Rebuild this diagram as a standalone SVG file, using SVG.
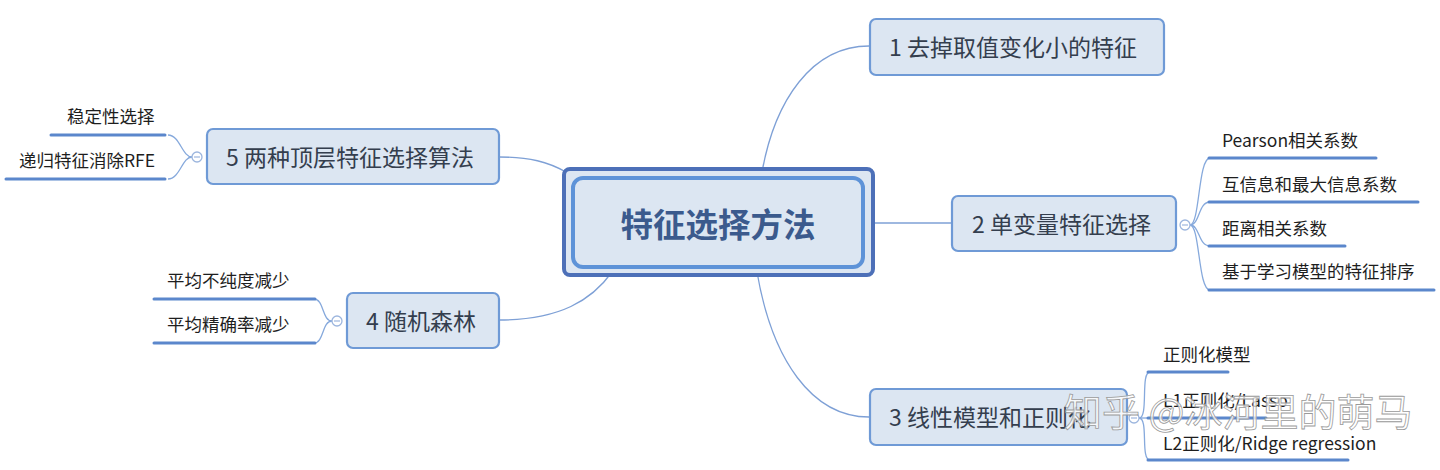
<svg xmlns="http://www.w3.org/2000/svg" width="1440" height="470" viewBox="0 0 1440 470">
<defs>
<style>
.node{fill:#dce6f2;stroke:#6f9ad6;stroke-width:2.2}
.nt{font-family:"Noto Sans CJK SC","Noto Sans",sans-serif;font-size:23px;fill:#343e4e}
.lt{font-family:"Noto Sans CJK SC","Noto Sans",sans-serif;font-size:17.5px;fill:#1e1e1e}
.con{fill:none;stroke:#7ea0d6;stroke-width:1.3}
.ul{stroke:#5b87cc;stroke-width:3;stroke-linecap:round}
.br{fill:none;stroke:#86a9dc;stroke-width:1.3}
.col{fill:#fff;stroke:#9db6de;stroke-width:1.3}
.wm{font-family:"Noto Sans CJK SC",sans-serif;font-size:38px;fill:#ffffff;fill-opacity:0.75;stroke:#9a9a9a;stroke-width:0.8}
</style>
</defs>
<rect width="1440" height="470" fill="#ffffff"/>
<g id="connectors">
<path class="con" d="M762,172 C775,100 812,46 869,46"/>
<path class="con" d="M873,223 L951,223"/>
<path class="con" d="M757,272 C772,360 812,417 869,417"/>
<path class="con" d="M499,157 C530,157 548,162 566,172"/>
<path class="con" d="M499,320 C560,320 592,300 612,272"/>
<path class="br" d="M1190,225 C1200,225 1198,158 1210,158"/>
<path class="br" d="M1190,225 C1200,225 1198,202 1210,202"/>
<path class="br" d="M1190,225 C1200,225 1198,246 1210,246"/>
<path class="br" d="M1190,225 C1200,225 1198,290 1210,290"/>
<path class="br" d="M1139,418 C1149,418 1140,372 1150,372"/>
<path class="br" d="M1139,418 L1150,418"/>
<path class="br" d="M1139,418 C1149,418 1140,460 1150,460"/>
<path class="br" d="M332,321 C322,321 324,299 314,299"/>
<path class="br" d="M332,321 C322,321 324,343 314,343"/>
<path class="br" d="M192,157 C182,157 180,135 168,135"/>
<path class="br" d="M192,157 C182,157 180,179 168,179"/>
</g>
<g id="center">
<rect x="564" y="169" width="309" height="106" rx="6" fill="#dce6f2" stroke="#4d70b8" stroke-width="4"/>
<rect x="573" y="178" width="290" height="89" rx="10" fill="#dce6f2" stroke="#5e93d8" stroke-width="4"/>
<text x="718" y="237" text-anchor="middle" font-family="'Noto Sans CJK SC',sans-serif" font-size="32.5" font-weight="bold" fill="#3b5a8d">特征选择方法</text>
</g>
<g id="n1">
<rect class="node" x="870" y="19" width="294" height="56" rx="6"/>
<text class="nt" x="889" y="56">1 去掉取值变化小的特征</text>
</g>
<g id="n2">
<rect class="node" x="952" y="196" width="224" height="55" rx="6"/>
<text class="nt" x="972" y="233">2 单变量特征选择</text>
<circle class="col" cx="1185" cy="225" r="5"/>
<line x1="1182" y1="225" x2="1188" y2="225" stroke="#9db6de" stroke-width="1.2"/>
</g>
<g id="n2a"><text class="lt" x="1222" y="147">Pearson相关系数</text><line class="ul" x1="1209" y1="158" x2="1376" y2="158"/></g>
<g id="n2b"><text class="lt" x="1222" y="191">互信息和最大信息系数</text><line class="ul" x1="1209" y1="202" x2="1418" y2="202"/></g>
<g id="n2c"><text class="lt" x="1222" y="235">距离相关系数</text><line class="ul" x1="1209" y1="246" x2="1345" y2="246"/></g>
<g id="n2d"><text class="lt" x="1222" y="278">基于学习模型的特征排序</text><line class="ul" x1="1209" y1="290" x2="1434" y2="290"/></g>
<g id="n3">
<rect class="node" x="870" y="389" width="257" height="56" rx="6"/>
<text class="nt" x="889" y="426">3 线性模型和正则化</text>
<circle class="col" cx="1134" cy="418" r="5"/>
<line x1="1131" y1="418" x2="1137" y2="418" stroke="#9db6de" stroke-width="1.2"/>
</g>
<g id="n3a"><text class="lt" x="1163" y="361">正则化模型</text><line class="ul" x1="1148" y1="372" x2="1228" y2="372"/></g>
<g id="n3b"><text class="lt" x="1163" y="407">L1正则化/Lasso</text><line class="ul" x1="1148" y1="418" x2="1266" y2="418"/></g>
<g id="n3c"><text class="lt" x="1163" y="450">L2正则化/Ridge regression</text><line class="ul" x1="1148" y1="460" x2="1348" y2="460"/></g>
<g id="n4">
<rect class="node" x="347" y="293" width="152" height="55" rx="6"/>
<text class="nt" x="366" y="330">4 随机森林</text>
<circle class="col" cx="337" cy="321" r="5"/>
<line x1="334" y1="321" x2="340" y2="321" stroke="#9db6de" stroke-width="1.2"/>
</g>
<g id="n4a"><text class="lt" x="167" y="287">平均不纯度减少</text><line class="ul" x1="154" y1="299" x2="315" y2="299"/></g>
<g id="n4b"><text class="lt" x="167" y="331">平均精确率减少</text><line class="ul" x1="154" y1="343" x2="315" y2="343"/></g>
<g id="n5">
<rect class="node" x="207" y="129" width="292" height="55" rx="6"/>
<text class="nt" x="226" y="166">5 两种顶层特征选择算法</text>
<circle class="col" cx="197" cy="157" r="5"/>
<line x1="194" y1="157" x2="200" y2="157" stroke="#9db6de" stroke-width="1.2"/>
</g>
<g id="n5a"><text class="lt" x="67" y="123">稳定性选择</text><line class="ul" x1="51" y1="135" x2="165" y2="135"/></g>
<g id="n5b"><text class="lt" x="19" y="167">递归特征消除RFE</text><line class="ul" x1="6" y1="179" x2="165" y2="179"/></g>
<g id="watermark">
<text class="wm" x="1064" y="426">知乎 @冰河里的萌马</text>
</g>
</svg>
